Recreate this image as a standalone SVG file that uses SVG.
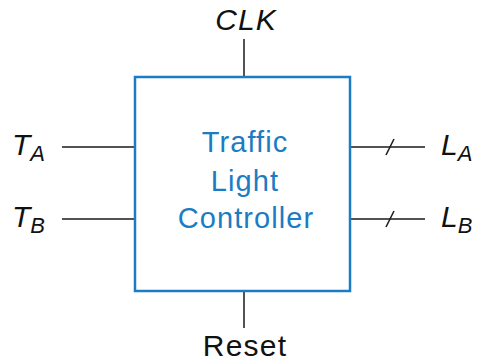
<svg xmlns="http://www.w3.org/2000/svg" width="481" height="362" viewBox="0 0 481 362">
<style>
.w{stroke:#1a1a1a;stroke-width:1.5;fill:none}
.lbl{font-family:"Liberation Sans",Arial,sans-serif;font-size:30px;fill:#111}
.it{font-style:italic}
.sub{font-size:22px}
.ctr{font-family:"Liberation Sans",Arial,sans-serif;font-size:29px;letter-spacing:1.1px;fill:#1b7cc4;text-anchor:middle}
</style>
<rect width="481" height="362" fill="#fff"/>
<g id="connectors">
<line class="w" x1="244" y1="39" x2="244" y2="77"/>
<line class="w" x1="244" y1="291" x2="244" y2="328"/>
<line class="w" x1="62" y1="147" x2="135" y2="147"/>
<line class="w" x1="62" y1="219" x2="135" y2="219"/>
<line class="w" x1="350" y1="147" x2="425" y2="147"/>
<line class="w" x1="350" y1="219" x2="425" y2="219"/>
<line class="w" x1="386" y1="155" x2="394" y2="139"/>
<line class="w" x1="386" y1="227" x2="394" y2="211"/>
</g>
<g id="controller">
<rect x="135" y="77" width="215" height="214" fill="#fff" stroke="#1b7cc4" stroke-width="2.5"/>
<text class="ctr" x="245" y="152">Traffic</text>
<text class="ctr" x="245" y="191">Light</text>
<text class="ctr" x="246" y="228">Controller</text>
</g>
<g id="clk"><text class="lbl it" x="246" y="30" text-anchor="middle" letter-spacing="1">CLK</text></g>
<g id="reset"><text class="lbl" x="245" y="356" text-anchor="middle" font-size="28" letter-spacing="1.2">Reset</text></g>
<g id="ta"><text class="lbl it" x="12" y="155">T<tspan class="sub" dy="6">A</tspan></text></g>
<g id="tb"><text class="lbl it" x="12" y="227">T<tspan class="sub" dy="6">B</tspan></text></g>
<g id="la"><text class="lbl it" x="441" y="155">L<tspan class="sub" dy="6">A</tspan></text></g>
<g id="lb"><text class="lbl it" x="441" y="227">L<tspan class="sub" dy="6">B</tspan></text></g>
</svg>
